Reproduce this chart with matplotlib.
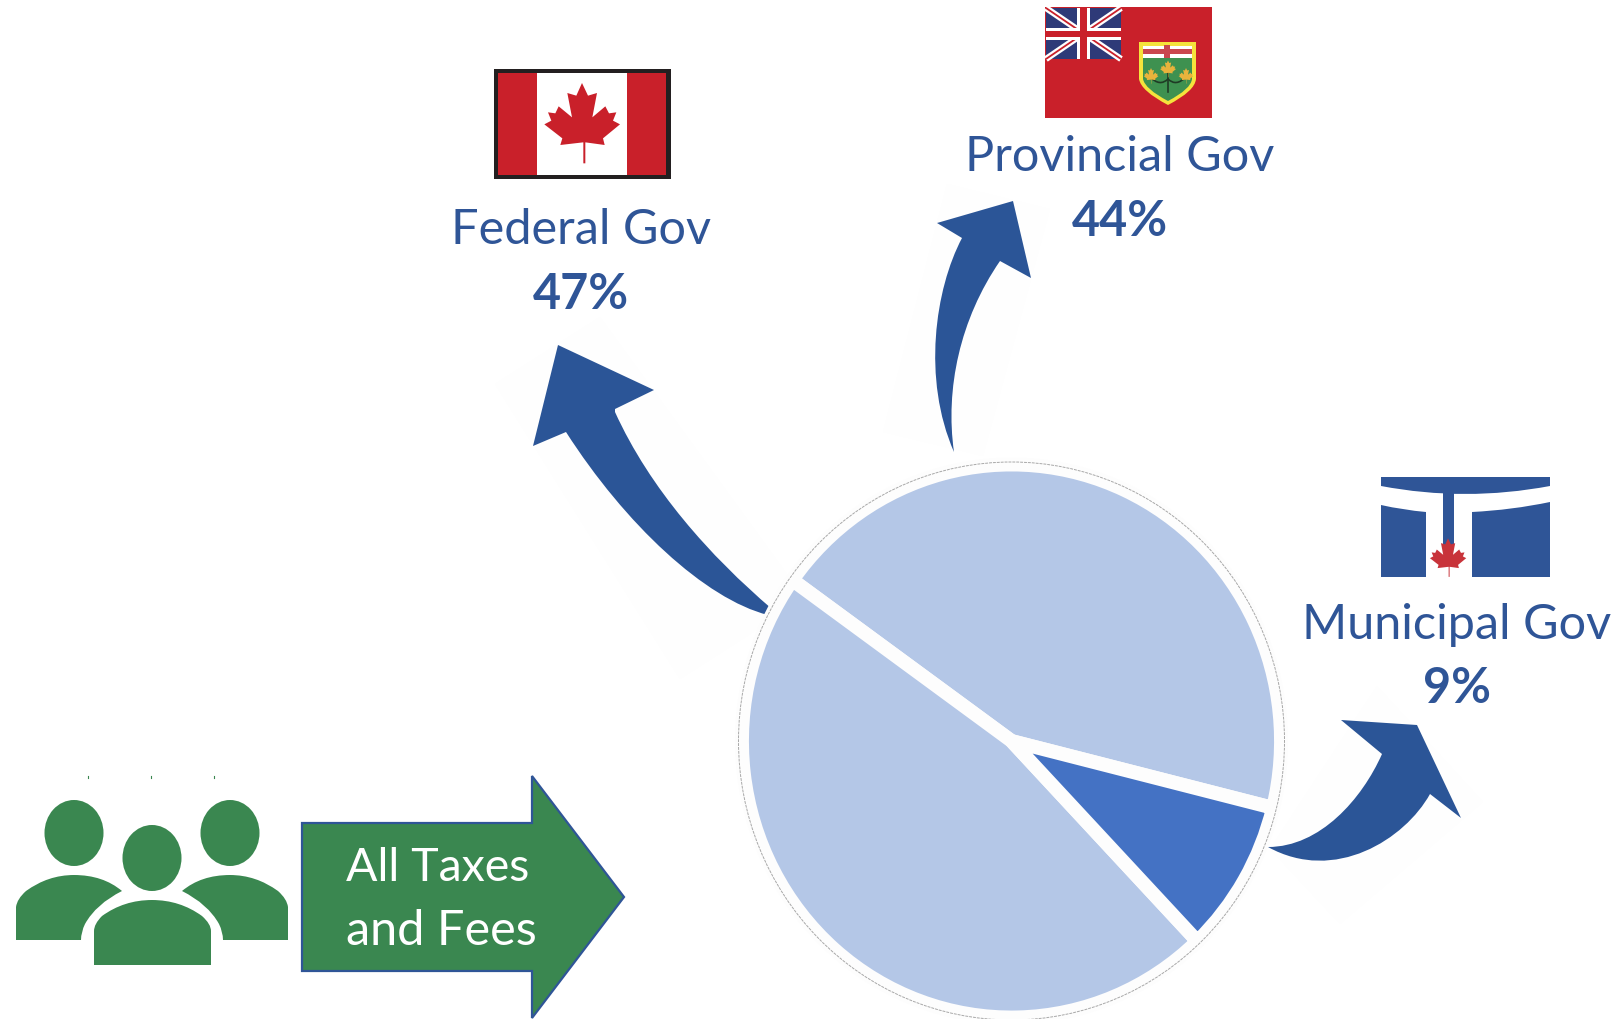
import matplotlib
matplotlib.use('Agg')
import matplotlib.pyplot as plt
from matplotlib.patches import Ellipse, PathPatch, Polygon, Rectangle
from matplotlib.path import Path

W, H = 1618, 1020

# data
levels = ['Provincial Gov', 'Federal Gov', 'Municipal Gov']
shares = [44, 47, 9]
slice_colors = ['#B4C7E7', '#B4C7E7', '#4472C4']
label_pos = {'Federal Gov': (581, 230, 295), 'Provincial Gov': (1120, 157, 221), 'Municipal Gov': (1457, 625, 689)}
source_label = ['All Taxes', 'and Fees']

plt.rcParams['font.family'] = ['Lato', 'DejaVu Sans']
blue = '#2B5597'
text_blue = '#2F5597'
green = '#3A8750'
red = '#C9202A'
pale = '#FEFEFE'

M, L, C = Path.MOVETO, Path.LINETO, Path.CURVE4
Q = Path.CURVE3

fig = plt.figure(figsize=(W / 100, H / 100), dpi=100)
ax = fig.add_axes([0, 0, 1, 1])
ax.set_xlim(0, W)
ax.set_ylim(H, 0)
ax.axis('off')


def shape(verts, codes, color, z=2, **kw):
    ax.add_patch(PathPatch(Path(verts, codes), facecolor=color, edgecolor=kw.pop('edge', 'none'), zorder=z, **kw))


# maple leaf outline, from the big flag, centred on the leaf
leaf = [(427, 102), (445, 140), (472, 132), (458, 205), (497, 172), (508, 193), (530, 190), (520, 215),
        (541, 226), (490, 268), (495, 288), (437, 280), (437, 343), (431, 343), (431, 280), (362, 288),
        (368, 268), (314, 226), (335, 215), (325, 190), (347, 193), (357, 172), (397, 205), (383, 132),
        (410, 140)]


def draw_leaf(cx, cy, s, color, z=4):
    pts = [(cx + (x - 427) * s, cy + (y - 225) * s) for x, y in leaf]
    ax.add_patch(Polygon(pts, closed=True, facecolor=color, edgecolor='none', zorder=z))


# pale boxes left behind the pasted arrows
for box in [[(495, 385), (600, 318), (805, 600), (680, 680)],
            [(947, 185), (1050, 210), (983, 457), (883, 433)],
            [(1377, 687), (1483, 803), (1340, 925), (1270, 850)]]:
    ax.add_patch(Polygon(box, closed=True, facecolor=pale, edgecolor='none', zorder=1))

# arrows
shape([(558, 346), (654, 391), (615, 410), (615, 413), (650, 490), (710, 557), (772, 610), (768, 616),
       (705, 600), (625, 525), (566, 433), (533, 447), (558, 346)],
      [M, L, L, L, C, C, C, L, C, C, C, L, L], blue)
shape([(1013, 202), (937, 224), (962, 239), (935, 290), (922, 380), (954, 453), (945, 390), (960, 320),
       (1000, 262), (1031, 279), (1013, 202)],
      [M, L, L, C, C, C, C, C, C, L, L], blue)
shape([(1268, 848), (1320, 848), (1362, 800), (1382, 755), (1341, 721), (1417, 726), (1461, 819), (1430, 795),
       (1405, 840), (1335, 885), (1268, 848)],
      [M, C, C, C, L, L, L, L, C, C, C], blue)

# pie
cx, cy, rx, ry = 1011.5, 742, 262.5, 269.5
pad = 7
pie_ax = fig.add_axes([(cx - rx - pad) / W, 1 - (cy + ry + pad) / H, 2 * (rx + pad) / W, 2 * (ry + pad) / H])
pie_ax.patch.set_alpha(0)
pie_ax.pie(shares, colors=slice_colors, startangle=-14, counterclock=True, radius=1,
           wedgeprops={'edgecolor': '#FDFDFD', 'linewidth': 10, 'joinstyle': 'round'})
pie_ax.set_aspect('auto')
pie_ax.set_xlim(-1, 1)
pie_ax.set_ylim(-1, 1)
for p in pie_ax.patches:
    p.set_clip_on(False)
# thin dashed ring round the pie
pie_ax.add_patch(Ellipse((0, 0), 2 * 273 / (rx + pad), 2 * 279 / (ry + pad), facecolor='none', edgecolor='#A8A8A8',
                         lw=0.7, ls=(0, (3, 1)), zorder=5, clip_on=False))

# labels
for name, share in zip(levels, shares):
    x, y1, y2 = label_pos[name]
    ax.text(x, y1, name, color=text_blue, fontsize=35, ha='center', va='center')
    ax.text(x, y2, f'{share}%', color=text_blue, fontsize=35, fontweight='bold', ha='center', va='center')

# Canada flag
ax.add_patch(Rectangle((494, 70), 177, 110, facecolor='#231F20', zorder=3))
ax.add_patch(Rectangle((498, 74), 168, 102, facecolor=red, zorder=3))
ax.add_patch(Rectangle((537, 74), 90, 102, facecolor='white', zorder=3))
draw_leaf(582, 125, 1 / 3, red)

# Ontario flag
ax.add_patch(Rectangle((1045, 8), 167, 111, facecolor=red, zorder=3))
ax.add_patch(Rectangle((1046, 9), 75, 51, facecolor='#2E3A78', zorder=3))
ax.plot([1046, 1121], [9, 60], color='white', lw=4.5, zorder=4, solid_capstyle='butt')
ax.plot([1046, 1121], [60, 9], color='white', lw=4.5, zorder=4, solid_capstyle='butt')
ax.plot([1046, 1121], [9, 60], color=red, lw=1.3, zorder=4, solid_capstyle='butt')
ax.plot([1046, 1121], [60, 9], color=red, lw=1.3, zorder=4, solid_capstyle='butt')
ax.add_patch(Rectangle((1046, 29), 75, 12, facecolor='white', zorder=4))
ax.add_patch(Rectangle((1077, 9), 13, 51, facecolor='white', zorder=4))
ax.add_patch(Rectangle((1046, 32), 75, 6, facecolor=red, zorder=4))
ax.add_patch(Rectangle((1080, 9), 7, 51, facecolor=red, zorder=4))

shield = [(1139, 43), (1196, 43), (1196, 80), (1195, 92), (1168, 106), (1141, 92), (1139, 80), (1139, 43)]
shape(shield, [M, L, L, Q, Q, Q, Q, L], '#F5E33C', z=4)
shape([(1143, 59), (1192, 59), (1192, 80), (1191, 90), (1168, 102), (1145, 90), (1143, 80), (1143, 59)],
      [M, L, L, Q, Q, Q, Q, L], '#3E9150', z=4)
ax.add_patch(Rectangle((1143, 47), 49, 12, facecolor='white', zorder=4.5))
ax.add_patch(Rectangle((1143, 50), 49, 5, facecolor='#C9474F', zorder=4.6))
ax.add_patch(Rectangle((1164, 46), 6, 13, facecolor='#C9474F', zorder=4.6))
shape([(1150, 78), (1160, 88), (1168, 80), (1176, 88), (1186, 78)], [M, Q, Q, Q, Q], 'none', z=5, edge='#1F3B25', lw=1.2)
ax.plot([1168, 1168], [68, 93], color='#1F3B25', lw=1.2, zorder=5)
draw_leaf(1168, 70, 0.07, '#E8B33C', z=6)
draw_leaf(1151, 77, 0.065, '#E8B33C', z=6)
draw_leaf(1186, 77, 0.065, '#E8B33C', z=6)

# Toronto logo
shape([(1381, 478), (1550, 478), (1550, 487), (1465, 503), (1381, 487), (1381, 478)], [M, L, L, Q, Q, L], text_blue, z=3)
ax.add_patch(Rectangle((1443, 490), 11, 60, facecolor=text_blue, zorder=3))
shape([(1381, 506), (1403, 511), (1426, 513), (1426, 578), (1381, 578), (1381, 506)], [M, Q, Q, L, L, L], text_blue, z=3)
shape([(1472, 513), (1512, 511), (1550, 503), (1550, 578), (1472, 578), (1472, 513)], [M, Q, Q, L, L, L], text_blue, z=3)
draw_leaf(1448, 559, 0.16, '#C8333A')

# people
for hx, hy in [(74, 834), (152, 859), (230, 834)]:
    ax.add_patch(Ellipse((hx, hy), 59, 66, facecolor=green, edgecolor='none', zorder=3))
shape([(16, 941), (16, 908), (17, 900), (26, 892), (48, 876), (74, 876), (103, 876), (122, 892),
       (96, 905), (85, 925), (81, 933), (81, 941), (16, 941)],
      [M, L, Q, Q, Q, Q, Q, Q, Q, Q, Q, Q, L], green, z=3)
shape([(288, 941), (288, 908), (287, 900), (278, 892), (256, 876), (230, 876), (201, 876), (182, 892),
       (208, 905), (219, 925), (223, 933), (223, 941), (288, 941)],
      [M, L, Q, Q, Q, Q, Q, Q, Q, Q, Q, Q, L], green, z=3)
shape([(94, 966), (94, 932), (94, 925), (102, 917), (124, 901), (152, 901), (180, 901), (202, 917),
       (211, 925), (211, 932), (211, 966), (94, 966)],
      [M, L, Q, Q, Q, Q, Q, Q, Q, Q, L, L], green, z=3)
for sx in [88, 151, 214]:
    ax.plot([sx, sx], [777, 779], color=green, lw=0.8, zorder=3)

# block arrow
ax.add_patch(Polygon([(302, 824), (532, 824), (532, 777), (624, 898), (532, 1019), (532, 972), (302, 972)],
                     closed=True, facecolor=green, edgecolor=text_blue, lw=1.6, zorder=3, clip_on=False))
ax.text(346, 868, source_label[0], color='white', fontsize=33.5, ha='left', va='center', zorder=5)
ax.text(346, 931, source_label[1], color='white', fontsize=35, ha='left', va='center', zorder=5)

fig.savefig('out.png', dpi=100, facecolor='white')
